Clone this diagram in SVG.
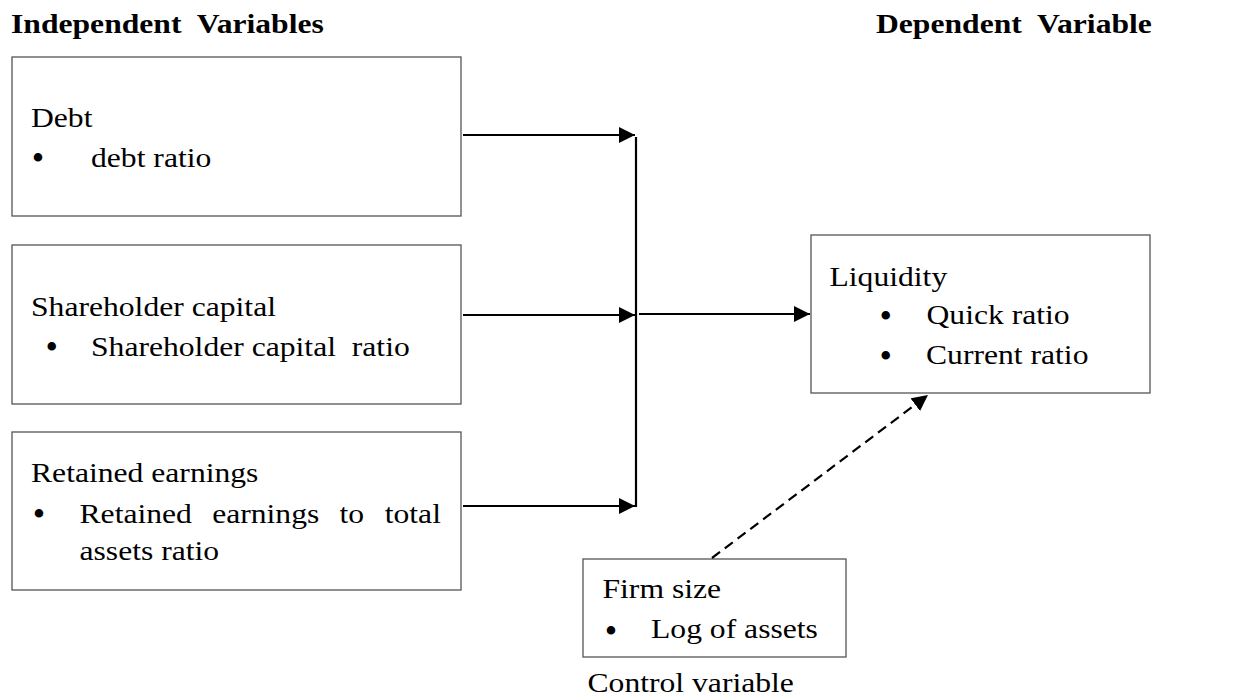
<svg xmlns="http://www.w3.org/2000/svg" width="1258" height="700" viewBox="0 0 1258 700">
<style>
.t{font-family:"Liberation Serif","Times New Roman",serif;font-size:28px;fill:#000;white-space:pre}
.b{font-weight:bold}
.bu{font-family:"Liberation Serif","Times New Roman",serif;font-size:35.5px;fill:#000;text-anchor:middle}
.box{fill:#fff;stroke:#555;stroke-width:1.3}
.ln{fill:none;stroke:#000;stroke-width:2.2}
.dash{fill:none;stroke:#000;stroke-width:2.2;stroke-dasharray:10 6}
</style>
<defs>
<marker id="ah" markerUnits="userSpaceOnUse" viewBox="0 0 16 16" markerWidth="16" markerHeight="16" refX="16" refY="8" orient="auto">
<path d="M0,0 L16,8 L0,16 z" fill="#000"/>
</marker>
</defs>
<rect width="1258" height="700" fill="#fff"/>
<g id="titles">
<text class="t b" transform="translate(11 33) scale(1.13 1)">Independent  Variables</text>
<text class="t b" transform="translate(876 32.5) scale(1.13 1)">Dependent  Variable</text>
</g>
<g id="debt">
<rect class="box" x="12" y="57" width="449" height="159"/>
<text class="t" transform="translate(31 126.7) scale(1.13 1)">Debt</text>
<text class="bu" x="38" y="169.5">•</text>
<text class="t" transform="translate(91 166.7) scale(1.13 1)">debt ratio</text>
</g>
<g id="shareholder">
<rect class="box" x="12" y="245" width="449" height="159"/>
<text class="t" transform="translate(31 316) scale(1.13 1)">Shareholder capital</text>
<text class="bu" x="51.7" y="359">•</text>
<text class="t" transform="translate(91 356) scale(1.13 1)">Shareholder capital  ratio</text>
</g>
<g id="retained">
<rect class="box" x="12" y="432" width="449" height="158"/>
<text class="t" transform="translate(31 482) scale(1.13 1)">Retained earnings</text>
<text class="bu" x="39" y="525.5">•</text>
<text class="t" transform="translate(79.5 522.7) scale(1.13 1)"><tspan x="0">Retained</tspan><tspan x="117.4">earnings</tspan><tspan x="230.1">to</tspan><tspan x="270.1">total</tspan></text>
<text class="t" transform="translate(79.5 560) scale(1.13 1)">assets ratio</text>
</g>
<g id="liquidity">
<rect class="box" x="811" y="235" width="339" height="158"/>
<text class="t" transform="translate(829.5 286) scale(1.13 1)">Liquidity</text>
<text class="bu" x="885.8" y="327.5">•</text>
<text class="bu" x="885.8" y="367.5">•</text>
<text class="t" transform="translate(926.5 324) scale(1.13 1)">Quick ratio</text>
<text class="t" transform="translate(926 364) scale(1.13 1)">Current ratio</text>
</g>
<g id="firmsize">
<rect class="box" x="583" y="559" width="263" height="98"/>
<text class="t" transform="translate(602.5 598.3) scale(1.13 1)">Firm size</text>
<text class="bu" x="611" y="642.5">•</text>
<text class="t" transform="translate(651 638.3) scale(1.13 1)">Log of assets</text>
</g>
<g id="control-label">
<text class="t" transform="translate(587.5 691.7) scale(1.13 1)">Control variable</text>
</g>
<g id="connectors">
<line class="ln" x1="463" y1="135" x2="635" y2="135" marker-end="url(#ah)"/>
<line class="ln" x1="463" y1="315" x2="635" y2="315" marker-end="url(#ah)"/>
<line class="ln" x1="463" y1="506" x2="635" y2="506" marker-end="url(#ah)"/>
<line class="ln" x1="636" y1="137" x2="636" y2="507"/>
<line class="ln" x1="639" y1="314" x2="810" y2="314" marker-end="url(#ah)"/>
<line class="dash" x1="712" y1="558" x2="928" y2="395" marker-end="url(#ah)"/>
</g>
</svg>
